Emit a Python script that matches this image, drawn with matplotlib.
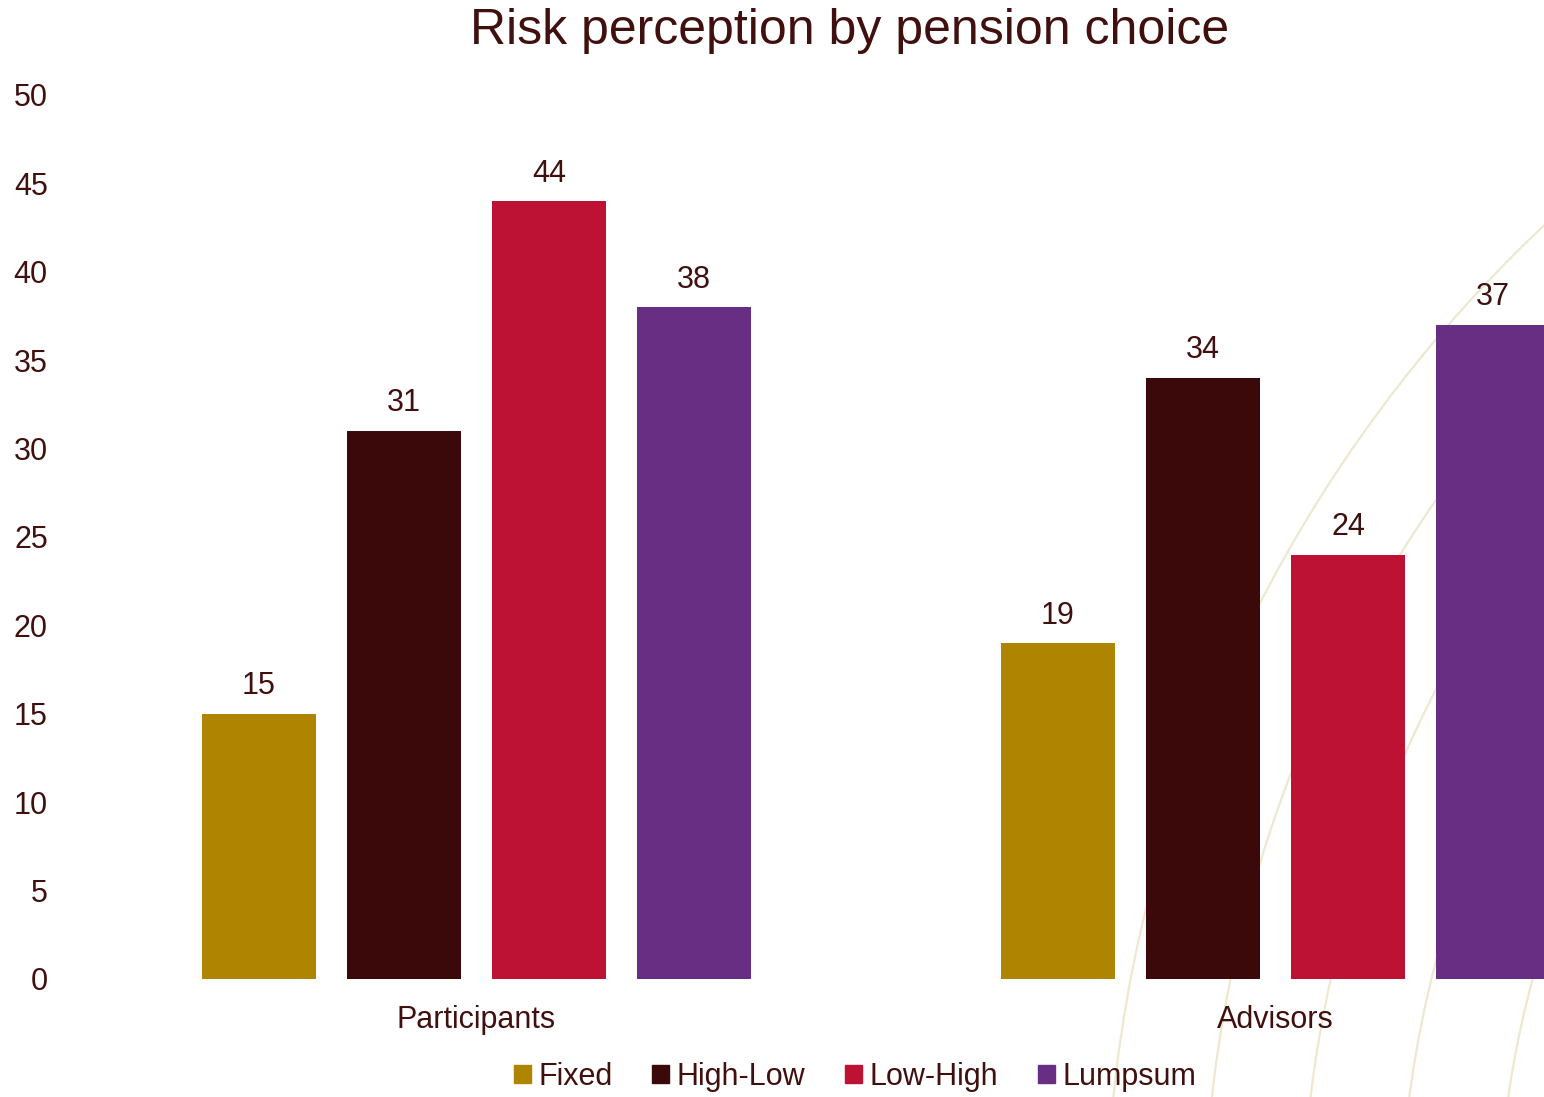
import matplotlib
matplotlib.use("Agg")
import numpy as np
from matplotlib import pyplot as plt
from matplotlib.patches import Patch, Circle

plt.rcParams['font.family'] = ['Liberation Sans', 'DejaVu Sans']

groups = ['Participants', 'Advisors']
series = ['Fixed', 'High-Low', 'Low-High', 'Lumpsum']
fixed = [15, 19]
high_low = [31, 34]
low_high = [44, 24]
lumpsum = [38, 37]
yticks = [0, 5, 10, 15, 20, 25, 30, 35, 40, 45, 50]

colors = ['#AF8400', '#3B0909', '#BE1234', '#672E84']
txt = '#40100F'
arc_col = '#EEE8D0'

W, H = 1544, 1097
fig = plt.figure(figsize=(W / 100, H / 100), dpi=100)

# decorative concentric arcs in the background (pixel coordinates)
bg = fig.add_axes([0, 0, 1, 1], zorder=0)
bg.set_xlim(0, W)
bg.set_ylim(H, 0)
bg.axis('off')
for r in [1394, 1296, 1198, 1100, 1002]:
    bg.add_patch(Circle((2500, 1240), r, fill=False, ec=arc_col, lw=1.6))

left = 77 / W
bottom = (H - 979) / H
top = (H - 95) / H
ax = fig.add_axes([left, bottom, 1 - left, top - bottom], zorder=1)
ax.patch.set_alpha(0)

x = np.arange(len(groups))
step = 145 / 799
width = 114 / 799
data = [fixed, high_low, low_high, lumpsum]
for i, vals in enumerate(data):
    pos = x + (i - 1.5) * step
    bars = ax.bar(pos, vals, width, color=colors[i], label=series[i])
    for b, v in zip(bars, vals):
        ax.annotate(str(v), (b.get_x() + b.get_width() / 2, v),
                    xytext=(0, 14), textcoords='offset points',
                    ha='center', va='baseline', fontsize=22, color=txt,
                    clip_on=False)

ax.set_xlim(-0.5, -0.5 + (W - 77) / 799)
ax.set_ylim(0, 50)
ax.set_yticks(yticks)
ax.set_xticks(x)
ax.set_xticklabels(groups)
ax.tick_params(axis='y', length=0, pad=21, labelsize=22, labelcolor=txt)
ax.tick_params(axis='x', length=0, pad=19, labelsize=22, labelcolor=txt)
for s in ax.spines.values():
    s.set_visible(False)

fig.text(850 / W, 1 - 31 / H, 'Risk perception by pension choice',
         ha='center', va='center', fontsize=36, color=txt)

handles = [Patch(color=c) for c in colors]
fig.legend(handles, series, loc='center', ncol=4, frameon=False,
           bbox_to_anchor=(855 / W, 1 - 1077 / H), fontsize=22,
           handlelength=0.55, handleheight=0.55, handletextpad=0.25,
           columnspacing=1.3, labelcolor=txt)

fig.savefig('out.png', dpi=100, facecolor='white')
